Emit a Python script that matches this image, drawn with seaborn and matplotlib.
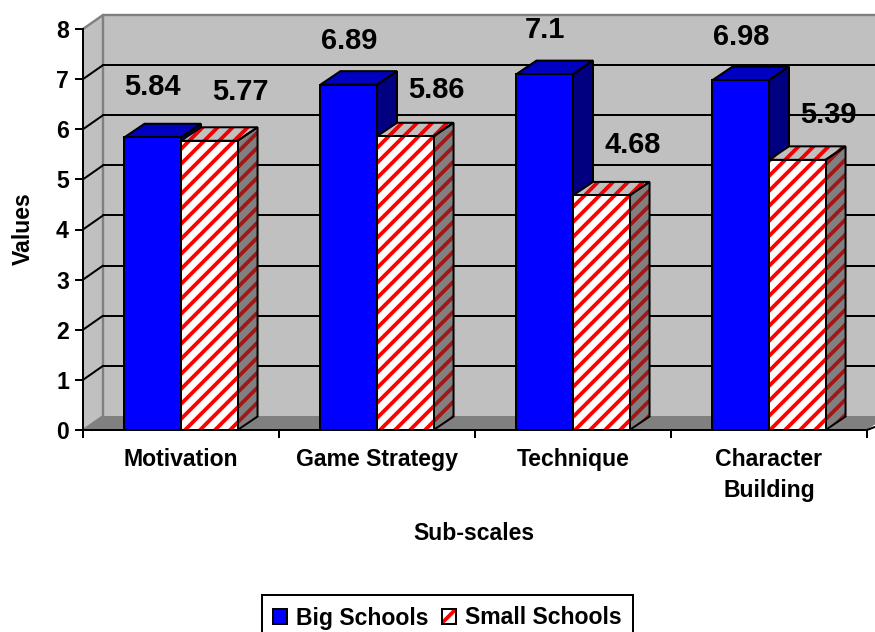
import matplotlib
matplotlib.use("Agg")
import matplotlib.pyplot as plt
from matplotlib.patches import Polygon, Patch, Rectangle
from matplotlib.legend_handler import HandlerBase
from matplotlib.ticker import FixedLocator
import pandas as pd
import seaborn as sns

categories = ["Motivation", "Game Strategy", "Technique", "Character\nBuilding"]
big_schools = [5.84, 6.89, 7.1, 6.98]
small_schools = [5.77, 5.86, 4.68, 5.39]
big_text = ["5.84", "6.89", "7.1", "6.98"]
small_text = ["5.77", "5.86", "4.68", "5.39"]
series_names = ["Big Schools", "Small Schools"]
value_ticks = [0, 1, 2, 3, 4, 5, 6, 7, 8]

W, H, DPI = 876, 632, 90
PX = 72 / DPI
X0, X1, Y0, Y8 = 83, 867, 430, 29
FS = 23 * PX

sns.set_style("white")
plt.rcParams["font.family"] = ["Liberation Sans", "DejaVu Sans"]
plt.rcParams["font.weight"] = "bold"
plt.rcParams["text.color"] = "black"
plt.rcParams["xtick.color"] = "black"
plt.rcParams["ytick.color"] = "black"
plt.rcParams["hatch.linewidth"] = 3.8 * PX

fig = plt.figure(figsize=(W / DPI, H / DPI), dpi=DPI)
ax = fig.add_axes([X0 / W, 1 - Y0 / H, (X1 - X0) / W, (Y0 - Y8) / H])

df = pd.DataFrame({
    "cat": categories * 2,
    "val": big_schools + small_schools,
    "series": [series_names[0]] * 4 + [series_names[1]] * 4,
})
sns.barplot(data=df, x="cat", y="val", hue="series", order=categories,
            hue_order=series_names, palette=["#0000FF", "#FFFFFF"], saturation=1,
            width=0.577, gap=0, dodge=True, legend=False, ax=ax, zorder=5)
ax.set_xlim(-0.5, 3.5)
ax.set_ylim(0, 8)

ux = (X1 - X0) / 4
uy = (Y0 - Y8) / 8
DX, DY = 20 / ux, 13.5 / uy     # depth of the bars' 3-D extrusion, data units
WY = 14 / uy                    # depth of the walls
LW = 2 * PX
HATCH = "//"


def face(pts, fc, hatch_color=None, z=3):
    if hatch_color:
        ax.add_patch(Polygon(pts, closed=True, fc=fc, ec=hatch_color, hatch=HATCH,
                             lw=0, zorder=z, clip_on=False))
    else:
        ax.add_patch(Polygon(pts, closed=True, fc=fc, ec="none", lw=0, zorder=z, clip_on=False))
    ax.add_patch(Polygon(pts, closed=True, fc="none", ec="black", lw=LW, zorder=z + 0.01,
                         clip_on=False, joinstyle="miter"))


# walls and floor
xl, xr = -0.5, 3.5
ymax = value_ticks[-1]
ax.add_patch(Polygon([(xl + DX, WY), (xr + DX, WY), (xr + DX, ymax + WY), (xl + DX, ymax + WY)],
                     fc="#C0C0C0", ec="none", zorder=0, clip_on=False))
ax.add_patch(Polygon([(xl, 0), (xl + DX, WY), (xl + DX, ymax + WY), (xl, ymax)],
                     fc="#C0C0C0", ec="none", zorder=0, clip_on=False))
ax.add_patch(Polygon([(xl, 0), (xl + DX, WY), (xr + DX, WY), (xr, 0)],
                     fc="#808080", ec="none", zorder=0.5, clip_on=False))
ax.plot([xl + DX, xl + DX], [WY, ymax + WY], color="#808080", lw=LW * 1.2, zorder=1, clip_on=False)
ax.plot([xl + DX, xr + DX], [ymax + WY, ymax + WY], color="#808080", lw=LW * 1.2, zorder=1, clip_on=False)
ax.plot([xl, xl + DX], [ymax, ymax + WY], color="#808080", lw=LW * 1.2, zorder=1, clip_on=False)
ax.plot([xl, xl + DX], [0, WY], color="#808080", lw=LW, zorder=1, clip_on=False)
for v in value_ticks[1:-1]:
    ax.plot([xl + DX, xr + DX], [v + WY, v + WY], color="black", lw=LW, zorder=1, clip_on=False)
    ax.plot([xl, xl + DX], [v, v + WY], color="black", lw=LW, zorder=1, clip_on=False)
ax.plot([xr, xr + DX], [0, WY * 0.55], color="black", lw=LW, zorder=1, clip_on=False)

# 3-D faces of the bars, built from the seaborn bars
big_bars, small_bars = ax.containers[0], ax.containers[1]
for i, (b, s) in enumerate(zip(big_bars, small_bars)):
    base_z = 2 + i * 0.5
    for bar, kind in ((b, "big"), (s, "small")):
        x, w, h = bar.get_x(), bar.get_width(), bar.get_height()
        z = base_z + (0 if kind == "big" else 0.2)
        top = [(x, h), (x + DX, h + DY), (x + w + DX, h + DY), (x + w, h)]
        side = [(x + w, 0), (x + w + DX, DY), (x + w + DX, h + DY), (x + w, h)]
        if kind == "big":
            face(top, "#0000C0", z=z)
            face(side, "#000080", z=z)
            bar.set_edgecolor("none")
            bar.set_zorder(6)
        else:
            face(top, "#C0C0C0", hatch_color="#F00000", z=z)
            face(side, "#808080", hatch_color="#A01818", z=z)
            bar.set_edgecolor("#FF0000")
            bar.set_hatch(HATCH)
            bar.set_linewidth(0)
            bar.set_zorder(6)
        ax.add_patch(Polygon(bar.get_corners(), fc="none", ec="black", lw=LW, zorder=6.2,
                             clip_on=False))

# axes furniture
for sp in ("top", "right"):
    ax.spines[sp].set_visible(False)
for sp in ("left", "bottom"):
    ax.spines[sp].set_color("black")
    ax.spines[sp].set_linewidth(LW)
    ax.spines[sp].set_zorder(7)
ax.set_yticks(value_ticks)
ax.set_yticklabels([str(v) for v in value_ticks], fontsize=FS, fontweight="bold")
ax.tick_params(axis="y", which="major", left=True, length=8 * PX, width=LW, color="black", pad=6 * PX)
ax.set_xticks(range(len(categories)))
ax.set_xticklabels(categories, fontsize=FS, fontweight="bold", linespacing=1.45)
ax.tick_params(axis="x", which="major", bottom=False, length=0, pad=18 * PX)
ax.xaxis.set_minor_locator(FixedLocator([-0.5, 0.5, 1.5, 2.5, 3.5]))
ax.tick_params(axis="x", which="minor", bottom=True, length=8 * PX, width=LW, color="black")
ax.grid(False)
ax.set_xlabel("")
ax.set_ylabel("")
fig.text(23 / W, 1 - 229 / H, "Values", rotation=90, ha="center", va="center",
         fontsize=FS, fontweight="bold")
fig.text(474 / W, 1 - 533 / H, "Sub-scales", ha="center", va="center",
         fontsize=FS, fontweight="bold")

# value labels: pixel nudges from each bar's top centre
big_nudge = [(0, 50), (0, 44), (0, 44), (0, 43)]
small_nudge = [(31, 49), (31, 46), (31, 50), (31, 45)]
for bars, texts, nudges in ((big_bars, big_text, big_nudge), (small_bars, small_text, small_nudge)):
    for bar, t, (nx, ny) in zip(bars, texts, nudges):
        ax.annotate(t, (bar.get_x() + bar.get_width() / 2, bar.get_height()),
                    xytext=(nx * PX, ny * PX), textcoords="offset points",
                    ha="center", va="center", fontsize=29 * PX, fontweight="bold",
                    zorder=10, annotation_clip=False)


class KeyHandler(HandlerBase):
    def create_artists(self, legend, orig, xd, yd, width, height, fontsize, trans):
        arts = []
        if orig.get_hatch():
            arts.append(Rectangle((-xd, -yd), width, height, fc="white", ec="#FF0000",
                                  hatch=HATCH, lw=0, transform=trans))
        else:
            arts.append(Rectangle((-xd, -yd), width, height, fc=orig.get_facecolor(), lw=0,
                                  transform=trans))
        arts.append(Rectangle((-xd, -yd), width, height, fc="none", ec="black", lw=LW,
                              transform=trans))
        return arts


handles = [Patch(fc="#0000FF", label=series_names[0]),
           Patch(fc="white", hatch=HATCH, label=series_names[1])]
leg = fig.legend(handles=handles, loc="center", bbox_to_anchor=(447.5 / W, 1 - 618 / H), ncol=2,
                 fontsize=FS, frameon=True, fancybox=False, edgecolor="black",
                 facecolor="white", framealpha=1, handlelength=0.58, handleheight=0.58,
                 handletextpad=0.4, columnspacing=0.6, borderpad=0.5, borderaxespad=0,
                 handler_map={Patch: KeyHandler()})
leg.get_frame().set_linewidth(LW)

fig.savefig("out.png", dpi=DPI, facecolor="white")
